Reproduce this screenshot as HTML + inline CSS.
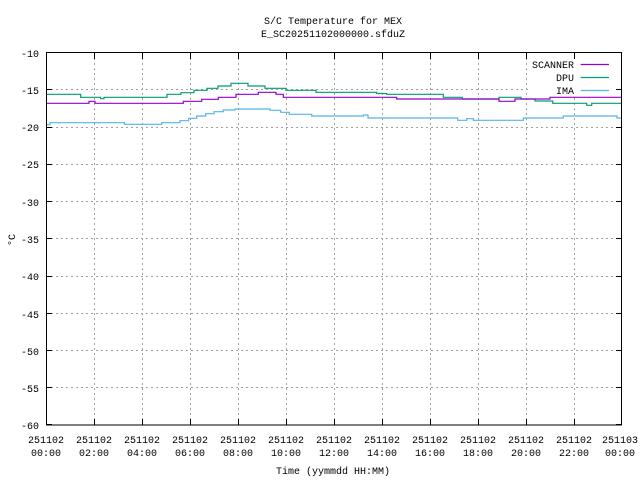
<!DOCTYPE html>
<html><head><meta charset="utf-8"><style>body{margin:0;background:#fff}svg{display:block}text{font-family:"Liberation Mono","DejaVu Sans Mono",monospace;font-size:10px;fill:#000}</style></head><body>
<svg width="640" height="480" xmlns="http://www.w3.org/2000/svg">
<g stroke="#a0a0a0" stroke-width="1" stroke-dasharray="2,3" fill="none">
<path d="M94.5 53V425M142.5 53V425M190.5 53V425M238.5 53V425M286.5 53V425M334.5 53V425M382.5 53V425M430.5 53V425M478.5 53V425M526.5 53V425M574.5 53V425"/>
<path d="M46 89.5H622M46 127.5H622M46 164.5H622M46 201.5H622M46 238.5H622M46 276.5H622M46 313.5H622M46 350.5H622M46 387.5H622"/>
</g>
<rect x="530" y="55" width="90" height="42" fill="#fff"/>
<rect x="46.5" y="52.5" width="575" height="372.5" fill="none" stroke="#000"/>
<g stroke="#000">
<path d="M46 52.5h6M46 89.5h6M46 127.5h6M46 164.5h6M46 201.5h6M46 238.5h6M46 276.5h6M46 313.5h6M46 350.5h6M46 387.5h6M46 424.5h6"/>
<path d="M622 52.5h-6M622 89.5h-6M622 127.5h-6M622 164.5h-6M622 201.5h-6M622 238.5h-6M622 276.5h-6M622 313.5h-6M622 350.5h-6M622 387.5h-6M622 424.5h-6"/>
<path d="M94.5 425v-6M142.5 425v-6M190.5 425v-6M238.5 425v-6M286.5 425v-6M334.5 425v-6M382.5 425v-6M430.5 425v-6M478.5 425v-6M526.5 425v-6M574.5 425v-6"/>
<path d="M94.5 53v6M142.5 53v6M190.5 53v6M238.5 53v6M286.5 53v6M334.5 53v6M382.5 53v6M430.5 53v6M478.5 53v6M526.5 53v6M574.5 53v6"/>
</g>
<g fill="none" stroke-width="1.2">
<path stroke="#009e73" d="M47 94.3H80.7V97.3H100.7V98.7H104V97.3H167V94.3H181V92.7H194V90.3H207V88.3H218V86H231V83.3H248V86H265V88.3H286V90.3H316V92.3H376.7V93.5H386.7V94.3H443.3V97.3H462.3V99H499V97.3H521V99H535V101H552.7V103.3H586.7V105.3H591.7V103.3H621"/>
<path stroke="#9400d3" d="M47 103.3H89V101.3H95V103.3H183.3V101.3H201.7V99.3H218.3V97.3H236V94.3H258.3V92.3H276V94.3H283.3V97.3H396.7V99H499V101.3H515V99H550V97.3H621"/>
<path stroke="#56b4e9" d="M47 124.7H50V122.7H124.3V124.3H161.7V122.7H180V120.7H188.7V118.3H196.7V116H205.7V113.7H214V111.7H223.3V110H235V109H270V110.3H280.7V112.3H289.3V114.3H311.7V116H363.3V115H368V118H457.7V120.3H466.7V118.7H473.3V120.3H523.3V118H563.3V116H617V118H621"/>
<path stroke="#9400d3" d="M580.7 64.5H609"/>
<path stroke="#009e73" d="M580.7 77.5H609"/>
<path stroke="#56b4e9" d="M580.7 90.5H609"/>
</g>
<g text-anchor="end">
<text x="574" y="68">SCANNER</text><text x="574" y="81">DPU</text><text x="574" y="94">IMA</text>
<text x="39" y="57">-10</text><text x="39" y="94">-15</text><text x="39" y="131">-20</text><text x="39" y="168">-25</text><text x="39" y="206">-30</text><text x="39" y="243">-35</text><text x="39" y="280">-40</text><text x="39" y="318">-45</text><text x="39" y="355">-50</text><text x="39" y="392">-55</text><text x="39" y="429">-60</text>
</g>
<g text-anchor="middle">
<text x="333" y="24">S/C Temperature for MEX</text>
<text x="333" y="37">E_SC20251102000000.sfduZ</text>
<text x="333" y="474">Time (yymmdd HH:MM)</text>
<text x="46" y="443">251102</text><text x="46" y="456">00:00</text>
<text x="94" y="443">251102</text><text x="94" y="456">02:00</text>
<text x="142" y="443">251102</text><text x="142" y="456">04:00</text>
<text x="190" y="443">251102</text><text x="190" y="456">06:00</text>
<text x="238" y="443">251102</text><text x="238" y="456">08:00</text>
<text x="286" y="443">251102</text><text x="286" y="456">10:00</text>
<text x="334" y="443">251102</text><text x="334" y="456">12:00</text>
<text x="382" y="443">251102</text><text x="382" y="456">14:00</text>
<text x="430" y="443">251102</text><text x="430" y="456">16:00</text>
<text x="478" y="443">251102</text><text x="478" y="456">18:00</text>
<text x="526" y="443">251102</text><text x="526" y="456">20:00</text>
<text x="574" y="443">251102</text><text x="574" y="456">22:00</text>
<text x="620" y="443">251103</text><text x="620" y="456">00:00</text>
<text x="15" y="240" transform="rotate(-90 15 240)">°C</text>
</g>
</svg>
</body></html>
